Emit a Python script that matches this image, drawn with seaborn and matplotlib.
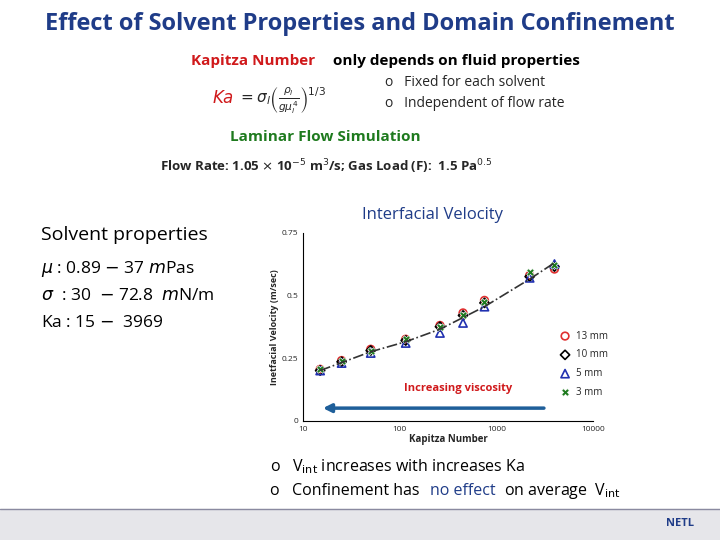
import numpy as np
import matplotlib.pyplot as plt
import seaborn as sns

sns.set_style("white")
plt.rcParams['font.family'] = ['Open Sans', 'DejaVu Sans']

# data
ka = [15, 25, 50, 115, 260, 450, 750, 2200, 3969]
v_13mm = [0.205, 0.24, 0.285, 0.325, 0.38, 0.43, 0.48, 0.58, 0.605]
v_10mm = [0.20, 0.235, 0.28, 0.32, 0.375, 0.42, 0.47, 0.575, 0.615]
v_5mm = [0.20, 0.23, 0.27, 0.31, 0.35, 0.39, 0.455, 0.57, 0.625]
v_3mm = [0.205, 0.24, 0.28, 0.325, 0.375, 0.42, 0.475, 0.595, 0.62]
trend_ka = [15, 50, 115, 260, 750, 2200, 3969]
trend_v = [0.20, 0.275, 0.315, 0.365, 0.455, 0.565, 0.63]

fig = plt.figure(figsize=(7.2, 5.4), dpi=100)
navy = '#1f3c88'
red = '#d0191b'
green = '#1e7a1e'

fig.text(0.5, 0.945, 'Effect of Solvent Properties and Domain Confinement', ha='center',
         fontsize=17, fontweight='bold', color=navy)
fig.text(0.265, 0.88, 'Kapitza Number', fontsize=11, fontweight='bold', color=red)
fig.text(0.463, 0.88, 'only depends on fluid properties', fontsize=11, fontweight='bold', color='black')
fig.text(0.295, 0.81, r'$\mathbf{\it{Ka}}$', fontsize=12, color=red)
fig.text(0.33, 0.81, r'$= \sigma_l\left(\frac{\rho_l}{g\mu_l^4}\right)^{1/3}$', fontsize=11)
fig.text(0.535, 0.84, 'o   Fixed for each solvent', fontsize=10)
fig.text(0.535, 0.801, 'o   Independent of flow rate', fontsize=10)
fig.text(0.32, 0.738, 'Laminar Flow Simulation', fontsize=11, fontweight='bold', color=green)
fig.text(0.222, 0.683, r'Flow Rate: 1.05 $\times$ 10$^{-5}$ m$^3$/s; Gas Load (F):  1.5 Pa$^{0.5}$',
         fontsize=9.5, fontweight='bold')
fig.text(0.503, 0.595, 'Interfacial Velocity', fontsize=12, color=navy)
fig.text(0.057, 0.555, 'Solvent properties', fontsize=14, color='black')
fig.text(0.057, 0.495, r'$\mu$ : 0.89 $-$ 37 $m$Pas', fontsize=12.5, color='black')
fig.text(0.057, 0.445, r'$\sigma$  : 30  $-$ 72.8  $m$N/m', fontsize=12.5, color='black')
fig.text(0.057, 0.395, 'Ka : 15 $-$  3969', fontsize=12.5, color='black')
fig.text(0.375, 0.127, 'o   V$_{\\rm int}$ increases with increases Ka', fontsize=11.5, color='black')
fig.text(0.375, 0.083, 'o   Confinement has ', fontsize=11.5, color='black')
fig.text(0.597, 0.083, 'no effect', fontsize=11.5, color=navy)
fig.text(0.7, 0.083, 'on average  V$_{\\rm int}$', fontsize=11.5, color='black')

# footer band
fig.add_artist(plt.Rectangle((0, 0), 1, 0.058, color='#e6e6ea', transform=fig.transFigure))
fig.add_artist(plt.Line2D([0, 1], [0.058, 0.058], color='#8a8aa0', lw=1))
fig.text(0.945, 0.025, 'NETL', ha='center', fontsize=8, fontweight='bold', color=navy)

ax = fig.add_axes([0.421, 0.221, 0.403, 0.348])
ax.plot(trend_ka, trend_v, color='#333333', ls='-.', lw=1.2)
sns.scatterplot(x=ka, y=v_13mm, ax=ax, marker='o', s=30, facecolors='none', edgecolor='#e03030',
                linewidth=1.2, label='13 mm')
sns.scatterplot(x=ka, y=v_10mm, ax=ax, marker='D', s=22, facecolors='none', edgecolor='black',
                linewidth=1.2, label='10 mm')
sns.scatterplot(x=ka, y=v_5mm, ax=ax, marker='^', s=35, facecolors='none', edgecolor='#2030b0',
                linewidth=1.2, label='5 mm')
sns.scatterplot(x=ka, y=v_3mm, ax=ax, marker='X', s=30, color='#1e7a1e', label='3 mm')
ax.set_xscale('log')
ax.set_xlim(10, 10000)
ax.set_ylim(0, 0.75)
ax.set_yticks([0, 0.25, 0.5, 0.75])
ax.set_yticklabels(['0', '0.25', '0.5', '0.75'])
ax.set_xticks([10, 100, 1000, 10000])
ax.set_xticklabels(['10', '100', '1000', '10000'])
ax.tick_params(labelsize=6, direction='in', length=3, which='both')
ax.set_xlabel('Kapitza Number', fontsize=7, fontweight='bold', labelpad=1)
ax.set_ylabel('Inetfacial Velocity (m/sec)', fontsize=6.5, fontweight='bold', labelpad=2)
for s in ['top', 'right']:
    ax.spines[s].set_visible(False)
for s in ['left', 'bottom']:
    ax.spines[s].set_color('black')
ax.legend(loc='center right', bbox_to_anchor=(1.08, 0.3), frameon=False, fontsize=7,
          handletextpad=0.1, labelspacing=0.8)
ax.annotate('', xy=(15, 0.05), xytext=(3300, 0.05),
            arrowprops=dict(arrowstyle='-|>', color='#1f5f9a', lw=2.5, mutation_scale=12))
ax.text(400, 0.12, 'Increasing viscosity', ha='center', fontsize=8, fontweight='bold', color=red)

fig.savefig('out.png', dpi=100)
